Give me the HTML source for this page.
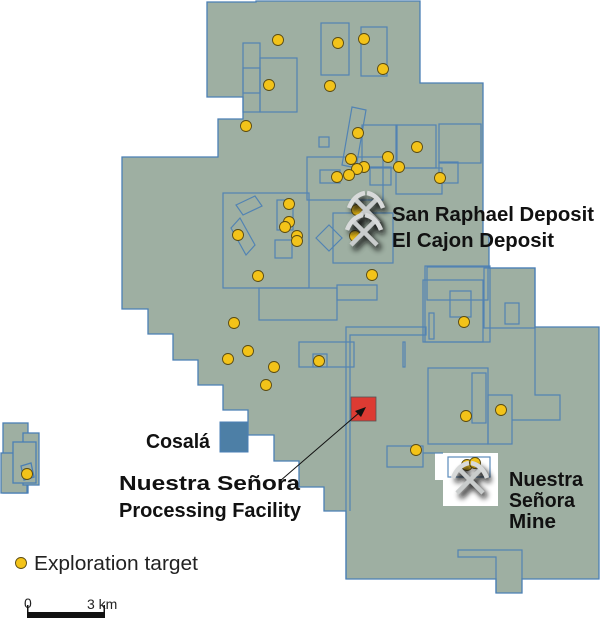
<!DOCTYPE html>
<html><head><meta charset="utf-8"><style>
html,body{margin:0;padding:0;background:#fff;width:600px;height:620px;overflow:hidden}
svg{display:block}
text{font-family:"Liberation Sans",sans-serif}
</style></head><body>
<svg width="600" height="620" viewBox="0 0 600 620" xmlns="http://www.w3.org/2000/svg">
<defs>
<filter id="sh" x="-50%" y="-50%" width="200%" height="200%"><feGaussianBlur stdDeviation="3"/></filter>
<g id="pick">
  <g filter="url(#sh)" opacity="0.85" transform="translate(3,4)">
    <path d="M-13,13 L11,-11 M13,13 L-11,-11" stroke="#111" stroke-width="6"/>
    <path d="M2,-16 Q12,-14 16,-2 M-2,-16 Q-12,-14 -16,-2" stroke="#111" stroke-width="6" fill="none"/>
  </g>
  <path d="M-13,13 L11,-11 M13,13 L-11,-11" stroke="#c9cccc" stroke-width="4.5"/>
  <path d="M1,-17 Q12,-15 17,-2 M-1,-17 Q-12,-15 -17,-2" stroke="#d8dada" stroke-width="4.5" fill="none"/>
</g>
</defs>
<g fill="#9eafa2" stroke="#4a7fb5" stroke-width="1.3">
<polygon points="207,2 256,2 256,1 420,1 420,83 483,83 483,235 489,235 489,268 535,268 535,327 599,327 599,579 522,579 522,593 496,593 496,579 346,579 346,511 324,511 324,487 299,487 299,461 274,461 274,435 248,435 248,410 223,410 223,385 198,385 198,360 173,360 173,334 148,334 148,309 122,309 122,157 218,157 218,119 243,119 243,97 207,97"/>
<rect x="3" y="423" width="25" height="70"/>
<rect x="1" y="453" width="26" height="40"/>
<rect x="23" y="433" width="16" height="52"/>
<rect x="13" y="442" width="23" height="41"/>
<polygon points="21,466 31,463 34,477 24,480"/>
</g>
<polygon points="443,453 498,453 498,506 443,506 443,480 435,480 435,453" fill="#fff"/>
<g fill="none" stroke="#4a7fb5" stroke-width="1.2" opacity="0.9">
<rect x="321" y="23" width="28" height="52"/>
<rect x="361" y="27" width="26" height="49"/>
<rect x="243" y="43" width="17" height="69"/>
<rect x="260" y="58" width="37" height="54"/>
<rect x="243" y="68" width="17" height="25"/>
<polygon points="352,107 366,110 356,168 342,165"/>
<rect x="319" y="137" width="10" height="10"/>
<rect x="362" y="125" width="35" height="43"/>
<rect x="396" y="125" width="40" height="43"/>
<rect x="439" y="124" width="42" height="39"/>
<rect x="439" y="162" width="19" height="21"/>
<rect x="396" y="168" width="46" height="26"/>
<rect x="370" y="167" width="21" height="18"/>
<rect x="307" y="157" width="76" height="43"/>
<rect x="320" y="170" width="20" height="13"/>
<rect x="223" y="193" width="86" height="95"/>
<rect x="277" y="200" width="16" height="30"/>
<rect x="275" y="240" width="17" height="18"/>
<polygon points="236,205 255,196 262,206 243,215"/>
<polygon points="231,228 240,218 255,245 246,255"/>
<polygon points="316,238 329,225 342,238 329,251"/>
<rect x="337" y="285" width="40" height="15"/>
<rect x="333" y="213" width="60" height="50"/>
<rect x="427" y="267" width="61" height="33"/>
<rect x="425" y="266" width="65" height="76"/>
<rect x="450" y="291" width="21" height="26"/>
<rect x="505" y="303" width="14" height="21"/>
<rect x="429" y="313" width="5" height="26"/>
<rect x="484" y="268" width="51" height="60"/>
<rect x="259" y="288" width="78" height="32"/>
<rect x="299" y="342" width="55" height="25"/>
<rect x="313" y="354" width="14" height="13"/>
<polyline points="346,579 346,327 426,327 426,335 350,335 350,511"/>
<rect x="403" y="342" width="2" height="25"/>
<rect x="423" y="280" width="60" height="62"/>
<rect x="428" y="368" width="60" height="76"/>
<rect x="472" y="373" width="14" height="50"/>
<rect x="488" y="395" width="24" height="49"/>
<polyline points="535,327 535,395 560,395 560,420 512,420"/>
<rect x="387" y="446" width="36" height="21"/>
<rect x="448" y="457" width="42" height="20"/>
<polyline points="496,593 496,557 458,557 458,550 522,550 522,579"/>
<polyline points="423,453 443,453"/>
</g>
<rect x="220" y="422" width="28" height="30" fill="#4d7fa6" stroke="#4a7fb5"/>
<rect x="351" y="397" width="25" height="24" fill="#dd3b33" stroke="#555" stroke-width="0.8"/>
<g fill="#f3c319" stroke="#5a4a10" stroke-width="0.9">
<circle cx="278" cy="40" r="5.5"/><circle cx="338" cy="43" r="5.5"/><circle cx="364" cy="39" r="5.5"/><circle cx="383" cy="69" r="5.5"/>
<circle cx="269" cy="85" r="5.5"/><circle cx="330" cy="86" r="5.5"/><circle cx="246" cy="126" r="5.5"/><circle cx="358" cy="133" r="5.5"/>
<circle cx="417" cy="147" r="5.5"/><circle cx="351" cy="159" r="5.5"/><circle cx="388" cy="157" r="5.5"/><circle cx="399" cy="167" r="5.5"/>
<circle cx="364" cy="167" r="5.5"/><circle cx="357" cy="169" r="5.5"/><circle cx="349" cy="175" r="5.5"/><circle cx="337" cy="177" r="5.5"/>
<circle cx="440" cy="178" r="5.5"/><circle cx="289" cy="204" r="5.5"/><circle cx="289" cy="222" r="5.5"/><circle cx="285" cy="227" r="5.5"/>
<circle cx="297" cy="236" r="5.5"/><circle cx="297" cy="241" r="5.5"/><circle cx="238" cy="235" r="5.5"/><circle cx="355" cy="236" r="5.5"/>
<circle cx="357" cy="210" r="5.5"/><circle cx="258" cy="276" r="5.5"/><circle cx="372" cy="275" r="5.5"/>
<circle cx="234" cy="323" r="5.5"/><circle cx="248" cy="351" r="5.5"/><circle cx="228" cy="359" r="5.5"/><circle cx="274" cy="367" r="5.5"/>
<circle cx="266" cy="385" r="5.5"/><circle cx="319" cy="361" r="5.5"/><circle cx="464" cy="322" r="5.5"/><circle cx="466" cy="416" r="5.5"/>
<circle cx="501" cy="410" r="5.5"/><circle cx="416" cy="450" r="5.5"/><circle cx="467" cy="465" r="5.5"/><circle cx="475" cy="463" r="5.5"/>
<circle cx="27" cy="474" r="5.5"/><circle cx="21" cy="563" r="5.5"/>
</g>
<use href="#pick" transform="translate(366,210)"/>
<use href="#pick" transform="translate(364,232)"/>
<use href="#pick" transform="translate(470,480)"/>
<line x1="280" y1="481" x2="360" y2="412" stroke="#111" stroke-width="1"/>
<polygon points="366,407 355,411 361,417" fill="#111"/>
<g font-weight="bold" fill="#111" font-size="20">
<text x="392" y="221" textLength="202" lengthAdjust="spacingAndGlyphs">San Raphael Deposit</text>
<text x="392" y="247" textLength="162" lengthAdjust="spacingAndGlyphs">El Cajon Deposit</text>
<text x="146" y="448" textLength="64" lengthAdjust="spacingAndGlyphs">Cosalá</text>
<text x="119" y="490" textLength="181" lengthAdjust="spacingAndGlyphs">Nuestra Señora</text>
<text x="119" y="517" textLength="182" lengthAdjust="spacingAndGlyphs">Processing Facility</text>
<text x="509" y="486" textLength="74" lengthAdjust="spacingAndGlyphs">Nuestra</text>
<text x="509" y="507" textLength="66" lengthAdjust="spacingAndGlyphs">Señora</text>
<text x="509" y="528" textLength="47" lengthAdjust="spacingAndGlyphs">Mine</text>
</g>
<text x="34" y="570" font-size="20" fill="#222" textLength="164" lengthAdjust="spacingAndGlyphs">Exploration target</text>
<text x="24" y="608" font-size="14" fill="#222">0</text>
<text x="87" y="609" font-size="14" fill="#222">3 km</text>
<rect x="27" y="612" width="78" height="6" fill="#111"/>
<rect x="27" y="605" width="1.5" height="8" fill="#111"/>
<rect x="103.5" y="605" width="1.5" height="8" fill="#111"/>
</svg>
</body></html>
